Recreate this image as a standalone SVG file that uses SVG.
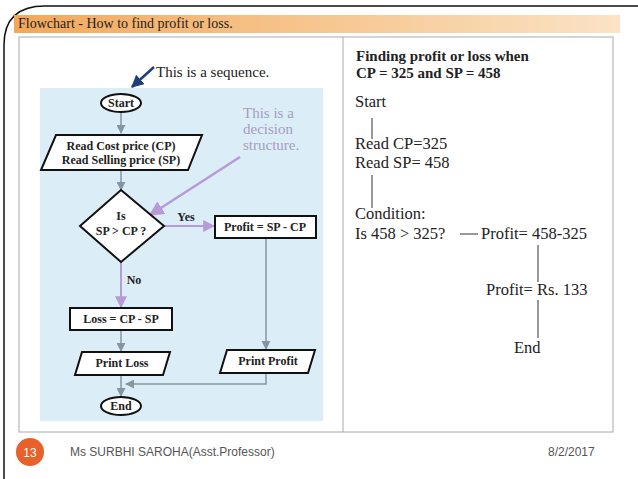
<svg xmlns="http://www.w3.org/2000/svg" width="638" height="479" viewBox="0 0 638 479">
<defs>
<linearGradient id="tb" x1="0" x2="1"><stop offset="0" stop-color="#f2a85a"/><stop offset="1" stop-color="#fbe3c5"/></linearGradient>
<marker id="ag" viewBox="0 0 10 10" refX="9" refY="5" markerWidth="6" markerHeight="6" orient="auto"><path d="M0,0L10,5L0,10z" fill="#8496a3"/></marker>
<marker id="ap" viewBox="0 0 10 10" refX="9" refY="5" markerWidth="6" markerHeight="6" orient="auto"><path d="M0,0L10,5L0,10z" fill="#b79ad6"/></marker>
<marker id="ab" viewBox="0 0 10 10" refX="9" refY="5" markerWidth="5" markerHeight="5" orient="auto"><path d="M0,0L10,5L0,10z" fill="#1f3f7a"/></marker>
<style>
.s{font-family:"Liberation Serif",serif;fill:#222}
.b{font-weight:bold;font-size:12px;text-anchor:middle}
.sh{fill:#fff;stroke:#111;stroke-width:2}
.g{stroke:#8496a3;stroke-width:1.5;fill:none}
.p{stroke:#b79ad6;stroke-width:2;fill:none}
.r{font-size:16.5px}
.ln{stroke:#333;stroke-width:1;fill:none}
</style>
</defs>
<rect width="638" height="479" fill="#fff"/>
<path d="M4,479 V45 Q4,6 45,6 H638" fill="none" stroke="#111" stroke-width="1.5"/>
<rect x="14" y="15" width="606" height="18" fill="url(#tb)"/>
<text x="18" y="28" class="s" font-size="14">Flowchart - How to find profit or loss.</text>
<rect x="19" y="37" width="594" height="395" fill="#fff" stroke="#aaa"/>
<line x1="343" y1="37" x2="343" y2="432" stroke="#aaa"/>
<rect x="40" y="88" width="283" height="333" fill="#dbeef8"/>
<g id="connectors">
<line x1="121" y1="112" x2="121" y2="133" class="g" marker-end="url(#ag)"/>
<line x1="121" y1="170" x2="121" y2="190" class="g" marker-end="url(#ag)"/>
<line x1="164" y1="226" x2="214" y2="226" class="p" marker-end="url(#ap)"/>
<line x1="121" y1="262" x2="121" y2="307" class="p" marker-end="url(#ap)"/>
<line x1="121" y1="330" x2="121" y2="351" class="g" marker-end="url(#ag)"/>
<line x1="266" y1="238" x2="266" y2="349" class="g" marker-end="url(#ag)"/>
<polyline points="266,373 266,384 126,384" class="g" marker-end="url(#ag)"/>
<line x1="121" y1="375" x2="121" y2="396" class="g" marker-end="url(#ag)"/>
<line x1="154" y1="67" x2="132" y2="87" stroke="#1f3f7a" stroke-width="2.5" marker-end="url(#ab)"/>
<line x1="240" y1="157" x2="150" y2="215" stroke="#b79ad6" stroke-width="2.5" marker-end="url(#ap)"/>
</g>
<g id="start"><ellipse cx="121" cy="103" rx="20" ry="9" class="sh"/><text x="121" y="107" class="s b">Start</text></g>
<g id="read"><polygon points="56,135 202,135 188,170 41,170" class="sh"/><text x="121" y="150" class="s b">Read Cost price (CP)</text><text x="121" y="164" class="s b">Read Selling price (SP)</text></g>
<g id="decision"><polygon points="121,190 164,226 121,262 80,226" class="sh"/><text x="121" y="220" class="s b">Is</text><text x="121" y="235" class="s b">SP &gt; CP ?</text></g>
<text x="186" y="221" class="s b">Yes</text>
<text x="134" y="284" class="s b">No</text>
<g id="profit"><rect x="215" y="216" width="101" height="22" class="sh"/><text x="265" y="231" class="s b">Profit = SP - CP</text></g>
<g id="loss"><rect x="70" y="308" width="102" height="22" class="sh"/><text x="121" y="323" class="s b">Loss = CP - SP</text></g>
<g id="printloss"><polygon points="82,352 170,352 163,375 75,375" class="sh"/><text x="122" y="367" class="s b">Print Loss</text></g>
<g id="printprofit"><polygon points="227,350 315,350 308,373 220,373" class="sh" stroke-width="1"/><text x="268" y="365" class="s b">Print Profit</text></g>
<g id="end"><ellipse cx="121" cy="406" rx="20" ry="9" class="sh"/><text x="121" y="410" class="s b">End</text></g>
<text x="156" y="77" class="s" font-size="15" fill="#1f2f5a">This is a sequence.</text>
<g class="s" font-size="15" style="fill:#a79cc0"><text x="243" y="118">This is a</text><text x="243" y="134">decision</text><text x="243" y="150">structure.</text></g>
<text x="356" y="61" class="s" font-size="15" font-weight="bold">Finding profit or loss when</text>
<text x="356" y="78" class="s" font-size="15" font-weight="bold">CP = 325 and SP = 458</text>
<g class="s r">
<text x="355" y="107">Start</text>
<text x="355" y="149">Read CP=325</text>
<text x="355" y="168">Read SP= 458</text>
<text x="355" y="219">Condition:</text>
<text x="355" y="239">Is 458 &gt; 325?</text>
<text x="481" y="239">Profit= 458-325</text>
<text x="486" y="295">Profit= Rs. 133</text>
<text x="514" y="353">End</text>
</g>
<g class="ln"><line x1="372" y1="118" x2="372" y2="139"/><line x1="372" y1="175" x2="372" y2="208"/><line x1="460" y1="234" x2="478" y2="234"/><line x1="538" y1="245" x2="538" y2="282"/><line x1="538" y1="300" x2="538" y2="338"/></g>
<circle cx="30" cy="452" r="14" fill="#e8602a"/>
<text x="30" y="457" font-family="Liberation Sans,sans-serif" font-size="12" fill="#fff" text-anchor="middle">13</text>
<text x="70" y="456" font-family="Liberation Sans,sans-serif" font-size="12" fill="#555">Ms SURBHI SAROHA(Asst.Professor)</text>
<text x="548" y="456" font-family="Liberation Sans,sans-serif" font-size="12" fill="#555">8/2/2017</text>
</svg>
